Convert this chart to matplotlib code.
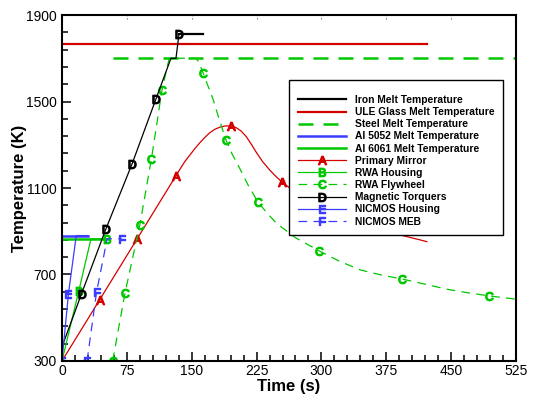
"""Component temperature histories against material melt temperatures."""

import matplotlib
matplotlib.use("Agg")
import matplotlib.pyplot as plt
import numpy as np
from matplotlib.lines import Line2D
from matplotlib.ticker import FixedLocator, MultipleLocator

plt.rcParams["font.family"] = ["Liberation Sans", "DejaVu Sans"]
plt.rcParams["mathtext.fontset"] = "custom"
plt.rcParams["mathtext.sf"] = "Liberation Sans"

# melt temperature reference lines (K) and their time spans (s)
IRON_MELT = 1811
IRON_SPAN = [135.3, 163.4]
ULE_MELT = 1765
ULE_SPAN = [0, 422]
STEEL_MELT = 1700
STEEL_SPAN = [58.6, 525]
AL5052_MELT = 880
AL5052_SPAN = [0, 30]
AL6061_MELT = 865
AL6061_SPAN = [0, 50]

# Primary Mirror (A)
mirror_t = [0, 138, 142, 148, 154, 160, 166, 171, 177, 183, 189, 195, 201, 207,
            213, 219, 225, 232, 240, 247, 254, 264, 280, 300, 320, 340, 370, 395,
            422]
mirror_T = [300, 1197, 1222, 1253, 1284, 1312, 1337, 1356, 1372, 1382, 1387, 1387,
            1380, 1364, 1338, 1302, 1263, 1222, 1184, 1155, 1129, 1098, 1055, 1012,
            977, 947, 908, 879, 852]
mirror_mark_t = [43.5, 87.0, 131.8, 195.4, 254]
mirror_mark_T = [583, 866, 1155, 1387, 1129]

# RWA Housing (B)
housing_t = [0, 19.5, 33.5, 51.7]
housing_T = [300, 625, 865, 865]
housing_mark_t = [19.5, 51.7]
housing_mark_T = [625, 865]

# RWA Flywheel (C)
fly_t = [58.6, 72.8, 90, 103.5, 115.6, 124, 155, 158, 163.4, 169, 175, 182, 189.6,
         197, 205, 215, 226.6, 237, 248, 270, 297.5, 320, 345, 370, 393.5, 420,
         445, 470, 494, 525]
fly_T = [300, 613, 929, 1236, 1553, 1700, 1700, 1684, 1630, 1570, 1507, 1415, 1322,
         1255, 1195, 1115, 1035, 985, 937, 870, 809, 763, 721, 697, 679, 655, 632,
         615, 601, 586]
fly_mark_t = [58.6, 72.8, 90, 103.5, 115.6, 163.4, 189.6, 226.6, 297.5, 393.5, 494]
fly_mark_T = [300, 613, 929, 1236, 1553, 1630, 1322, 1035, 809, 679, 601]

# Magnetic Torquers (D)
torq_t = [0, 0.6, 22.7, 50.9, 81, 108.7, 126, 131.8, 135.3, 163.4]
torq_T = [300, 372, 612, 912, 1211, 1512, 1700, 1700, 1811, 1811]
torq_mark_t = [22.7, 50.9, 81, 108.7, 135.3]
torq_mark_T = [612, 912, 1211, 1512, 1811]

# NICMOS Housing (E)
nic_t = [0, 7.5, 16.5, 30]
nic_T = [300, 612, 880, 880]
nic_mark_t = [0, 7.5]
nic_mark_T = [300, 612]

# NICMOS MEB (F)
meb_t = [29, 40, 48.9, 52.2, 69]
meb_T = [300, 620, 798, 865, 865]
meb_mark_t = [29, 40, 69]
meb_mark_T = [300, 620, 865]

RED = "#d40000"
GREEN = "#00c800"
BLUE = "#3c3cff"
MS = 6

fig = plt.figure(figsize=(5.33, 3.96), dpi=100)
ax = fig.add_axes([0.1163, 0.0884, 0.8518, 0.8737])

# melt lines
ax.plot(IRON_SPAN, [IRON_MELT] * 2, color="black", lw=1.6)
ax.plot(ULE_SPAN, [ULE_MELT] * 2, color=RED, lw=1.6)
ax.plot(STEEL_SPAN, [STEEL_MELT] * 2, color=GREEN, lw=1.8, dashes=(6, 4))
ax.plot(AL5052_SPAN, [AL5052_MELT] * 2, color=BLUE, lw=1.8)
ax.plot(AL6061_SPAN, [AL6061_MELT] * 2, color=GREEN, lw=1.8)

curves = [
    (mirror_t, mirror_T, mirror_mark_t, mirror_mark_T, RED, "-", "A"),
    (housing_t, housing_T, housing_mark_t, housing_mark_T, GREEN, "-", "B"),
    (fly_t, fly_T, fly_mark_t, fly_mark_T, GREEN, "--", "C"),
    (torq_t, torq_T, torq_mark_t, torq_mark_T, "black", "-", "D"),
    (nic_t, nic_T, nic_mark_t, nic_mark_T, BLUE, "-", "E"),
    (meb_t, meb_T, meb_mark_t, meb_mark_T, BLUE, "--", "F"),
]
for t, T, mt, mT, col, ls, letter in curves:
    kw = dict(dashes=(7, 5)) if ls == "--" else {}
    ax.plot(t, T, color=col, lw=0.9, **kw)
    ax.plot(mt, mT, ls="none", marker=rf"$\mathsf{{{letter}}}$", ms=MS,
            color=col)

ax.set_xlim(0, 525)
ax.set_ylim(300, 1900)
ax.xaxis.set_major_locator(MultipleLocator(75))
ax.xaxis.set_minor_locator(MultipleLocator(15))
ax.yaxis.set_major_locator(FixedLocator(np.arange(300, 1901, 400)))
ax.yaxis.set_minor_locator(FixedLocator(np.arange(300, 1901, 80)))
ax.tick_params(which="both", direction="in", top=False, right=False,
               labelsize=10, width=1.1)
ax.tick_params(which="major", length=6.5)
ax.tick_params(which="minor", length=4)
ax.tick_params(axis="y", pad=4)
ax.tick_params(axis="x", pad=2)
for x in range(75, 525, 75):
    ax.plot([x, x], [1880, 1895], color="0.35", lw=0.8, ls=(0, (1, 1.5)),
            clip_on=False)
for sp in ax.spines.values():
    sp.set_linewidth(1.5)

ax.set_xlabel("Time (s)", fontsize=12, fontweight="bold")
ax.set_ylabel("Temperature (K)", fontsize=12, fontweight="bold")
ax.xaxis.set_label_coords(0.5, -0.052)
ax.yaxis.set_label_coords(-0.077, 0.5)

handles = [
    Line2D([], [], color="black", lw=1.6),
    Line2D([], [], color=RED, lw=1.6),
    Line2D([], [], color=GREEN, lw=1.8, dashes=(6, 4)),
    Line2D([], [], color=BLUE, lw=1.8),
    Line2D([], [], color=GREEN, lw=1.8),
]
for t, T, mt, mT, col, ls, letter in curves:
    kw = dict(dashes=(7, 5)) if ls == "--" else {}
    handles.append(Line2D([], [], color=col, lw=0.9,
                          marker=rf"$\mathsf{{{letter}}}$", ms=MS, **kw))
labels = ["Iron Melt Temperature", "ULE Glass Melt Temperature",
          "Steel Melt Temperature", "Al 5052 Melt Temperature",
          "Al 6061 Melt Temperature", "Primary Mirror", "RWA Housing",
          "RWA Flywheel", "Magnetic Torquers", "NICMOS Housing", "NICMOS MEB"]
leg = ax.legend(handles, labels, loc="upper left", bbox_to_anchor=(0.5007, 0.812),
                prop={"size": 7.4, "weight": "bold"}, handlelength=4.7,
                handletextpad=0.8, labelspacing=0.21, borderpad=0.85,
                borderaxespad=0, numpoints=1, fancybox=False, framealpha=1,
                edgecolor="black", title=" ", title_fontsize=2.5)
leg.get_frame().set_linewidth(1.0)

fig.savefig("out.png", dpi=100)
